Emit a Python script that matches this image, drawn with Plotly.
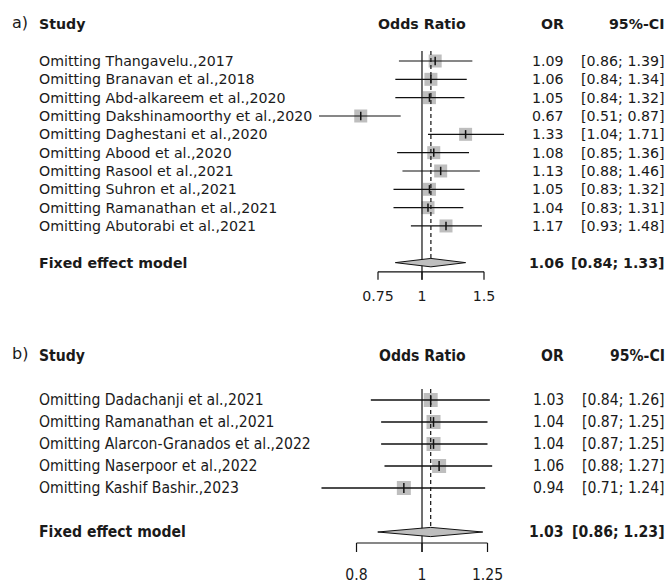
import plotly.graph_objects as go

# ---------------- data ----------------
studies_a = [
    "Omitting Thangavelu.,2017",
    "Omitting Branavan et al.,2018",
    "Omitting Abd-alkareem et al.,2020",
    "Omitting Dakshinamoorthy et al.,2020",
    "Omitting Daghestani et al.,2020",
    "Omitting Abood et al.,2020",
    "Omitting Rasool et al.,2021",
    "Omitting Suhron et al.,2021",
    "Omitting Ramanathan et al.,2021",
    "Omitting Abutorabi et al.,2021",
]
or_a = [1.09, 1.06, 1.05, 0.67, 1.33, 1.08, 1.13, 1.05, 1.04, 1.17]
lo_a = [0.86, 0.84, 0.84, 0.51, 1.04, 0.85, 0.88, 0.83, 0.83, 0.93]
hi_a = [1.39, 1.34, 1.32, 0.87, 1.71, 1.36, 1.46, 1.32, 1.31, 1.48]
pooled_a = [1.06, 0.84, 1.33]
ticks_a = [0.75, 1, 1.5]

studies_b = [
    "Omitting Dadachanji et al.,2021",
    "Omitting Ramanathan et al.,2021",
    "Omitting Alarcon-Granados et al.,2022",
    "Omitting Naserpoor et al.,2022",
    "Omitting Kashif Bashir.,2023",
]
or_b = [1.03, 1.04, 1.04, 1.06, 0.94]
lo_b = [0.84, 0.87, 0.87, 0.88, 0.71]
hi_b = [1.26, 1.25, 1.25, 1.27, 1.24]
pooled_b = [1.03, 0.86, 1.23]
ticks_b = [0.8, 1, 1.25]

panel_tags = ["a)", "b)"]
headers = ["Study", "Odds Ratio", "OR", "95%-CI"]
pooled_label = "Fixed effect model"
null_value = 1

# ---------------- layout helpers ----------------
W, H = 671, 585
X_LABEL = 36.5 / W
X_OR = 566 / W
X_CI = 667 / W
X_TAG = 10 / W
TXT = "#1a1a1a"

fig = go.Figure()
annotations = []


def fmt(v):
    return f"{v:.2f}"


def add_panel(xr, yr, tag, studies, est, lo, hi, pooled, ticks, cfg):
    n = len(studies)
    rows = list(range(n))
    k_pool = n + 1
    k_axis = n + 1.5
    k_tick = k_axis + cfg["tick_len"]
    top = cfg["top"]
    font = dict(family=cfg["family"], size=cfg["size"], color=TXT)
    bfont = dict(family=cfg["family"], size=cfg["size"], color=TXT)

    # squares
    fig.add_trace(go.Scatter(
        x=est, y=rows, mode="markers", xaxis=xr, yaxis=yr,
        marker=dict(symbol="square", size=cfg["sq"], color="#BEBEBE", line=dict(width=0)),
        hoverinfo="skip", showlegend=False))
    # CI lines
    cx, cy = [], []
    for i in rows:
        cx += [lo[i], hi[i], None]
        cy += [i, i, None]
    fig.add_trace(go.Scatter(
        x=cx, y=cy, mode="lines", xaxis=xr, yaxis=yr,
        line=dict(color="#111111", width=cfg["lw"]), hoverinfo="skip", showlegend=False))
    # centre ticks
    fig.add_trace(go.Scatter(
        x=est, y=rows, mode="markers", xaxis=xr, yaxis=yr,
        marker=dict(symbol="line-ns", size=cfg["ctick"], line=dict(color="#111111", width=1.5)),
        hoverinfo="skip", showlegend=False))
    # null line
    fig.add_trace(go.Scatter(
        x=[null_value, null_value], y=[top, k_tick], mode="lines", xaxis=xr, yaxis=yr,
        line=dict(color="#111111", width=1.2), hoverinfo="skip", showlegend=False))
    # pooled dashed line
    fig.add_trace(go.Scatter(
        x=[pooled[0], pooled[0]], y=[top, k_pool - cfg["dh"]], mode="lines", xaxis=xr, yaxis=yr,
        line=dict(color="#111111", width=1.2, dash="4px,3px"), hoverinfo="skip", showlegend=False))
    # diamond
    dh = cfg["dh"]
    fig.add_trace(go.Scatter(
        x=[pooled[1], pooled[0], pooled[2], pooled[0], pooled[1]],
        y=[k_pool, k_pool - dh, k_pool, k_pool + dh, k_pool],
        mode="lines", fill="toself", fillcolor="#BEBEBE", xaxis=xr, yaxis=yr,
        line=dict(color="#111111", width=1), hoverinfo="skip", showlegend=False))
    # axis bracket
    ax, ay = [min(ticks), max(ticks), None], [k_axis, k_axis, None]
    for t in ticks:
        ax += [t, t, None]
        ay += [k_axis, k_tick, None]
    fig.add_trace(go.Scatter(
        x=ax, y=ay, mode="lines", xaxis=xr, yaxis=yr,
        line=dict(color="#111111", width=1.2), hoverinfo="skip", showlegend=False))
    fig.add_trace(go.Scatter(
        x=ticks, y=[k_axis + cfg["lab_off"]] * len(ticks), mode="text", xaxis=xr, yaxis=yr,
        text=[f"{t:g}" for t in ticks], textposition="middle center",
        textfont=font, hoverinfo="skip", showlegend=False))

    yref, xref = yr, xr
    # headers
    annotations.append(dict(x=X_TAG, y=-2.1, xref="paper", yref=yref, text=tag,
                            xanchor="left", yanchor="middle", showarrow=False,
                            font=dict(family="DejaVu Sans", size=16, color=TXT)))
    annotations.append(dict(x=X_LABEL, y=-2, xref="paper", yref=yref, text=f"<b>{headers[0]}</b>",
                            xanchor="left", yanchor="middle", showarrow=False, font=bfont))
    annotations.append(dict(x=0, y=-2, xref=xref, yref=yref, text=f"<b>{headers[1]}</b>",
                            xanchor="center", yanchor="middle", showarrow=False, font=bfont))
    annotations.append(dict(x=X_OR, y=-2, xref="paper", yref=yref, text=f"<b>{headers[2]}</b>",
                            xanchor="right", yanchor="middle", showarrow=False, font=bfont))
    annotations.append(dict(x=X_CI, y=-2, xref="paper", yref=yref, text=f"<b>{headers[3]}</b>",
                            xanchor="right", yanchor="middle", showarrow=False, font=bfont))
    for i in rows:
        annotations.append(dict(x=X_LABEL, y=i, xref="paper", yref=yref, text=studies[i],
                                xanchor="left", yanchor="middle", showarrow=False, font=font))
        annotations.append(dict(x=X_OR, y=i, xref="paper", yref=yref, text=fmt(est[i]),
                                xanchor="right", yanchor="middle", showarrow=False, font=font))
        annotations.append(dict(x=X_CI, y=i, xref="paper", yref=yref,
                                text=f"[{fmt(lo[i])}; {fmt(hi[i])}]",
                                xanchor="right", yanchor="middle", showarrow=False, font=font))
    annotations.append(dict(x=X_LABEL, y=k_pool, xref="paper", yref=yref, text=f"<b>{pooled_label}</b>",
                            xanchor="left", yanchor="middle", showarrow=False, font=bfont))
    annotations.append(dict(x=X_OR, y=k_pool, xref="paper", yref=yref, text=f"<b>{fmt(pooled[0])}</b>",
                            xanchor="right", yanchor="middle", showarrow=False, font=bfont))
    annotations.append(dict(x=X_CI, y=k_pool, xref="paper", yref=yref,
                            text=f"<b>[{fmt(pooled[1])}; {fmt(pooled[2])}]</b>",
                            xanchor="right", yanchor="middle", showarrow=False, font=bfont))


cfg_a = dict(family="DejaVu Sans", size=14.2, sq=13, ctick=6, lw=1.2,
             dh=0.23, top=-0.55, tick_len=0.44, lab_off=1.38)
cfg_b = dict(family="DejaVu Sans Condensed", size=15.6, sq=14, ctick=7,
             lw=1.3, dh=0.21, top=-0.5, tick_len=0.41, lab_off=1.5)

add_panel("x", "y", panel_tags[0], studies_a, or_a, lo_a, hi_a, pooled_a, ticks_a, cfg_a)
add_panel("x2", "y2", panel_tags[1], studies_b, or_b, lo_b, hi_b, pooled_b, ticks_b, cfg_b)

split = 1 - 310 / H
fig.update_layout(
    width=W, height=H,
    margin=dict(l=0, r=0, t=0, b=0),
    paper_bgcolor="white", plot_bgcolor="white",
    showlegend=False,
    xaxis=dict(type="log", range=[-1.1985, 0.7072], domain=[0, 1], visible=False, anchor="y"),
    yaxis=dict(range=[13.584, -3.328], domain=[split, 1], visible=False, anchor="x"),
    xaxis2=dict(type="log", range=[-0.6244, 0.3684], domain=[0, 1], visible=False, anchor="y2"),
    yaxis2=dict(range=[8.409, -4.091], domain=[0, split], visible=False, anchor="x2"),
    annotations=annotations,
)

fig.write_html("out.html")
